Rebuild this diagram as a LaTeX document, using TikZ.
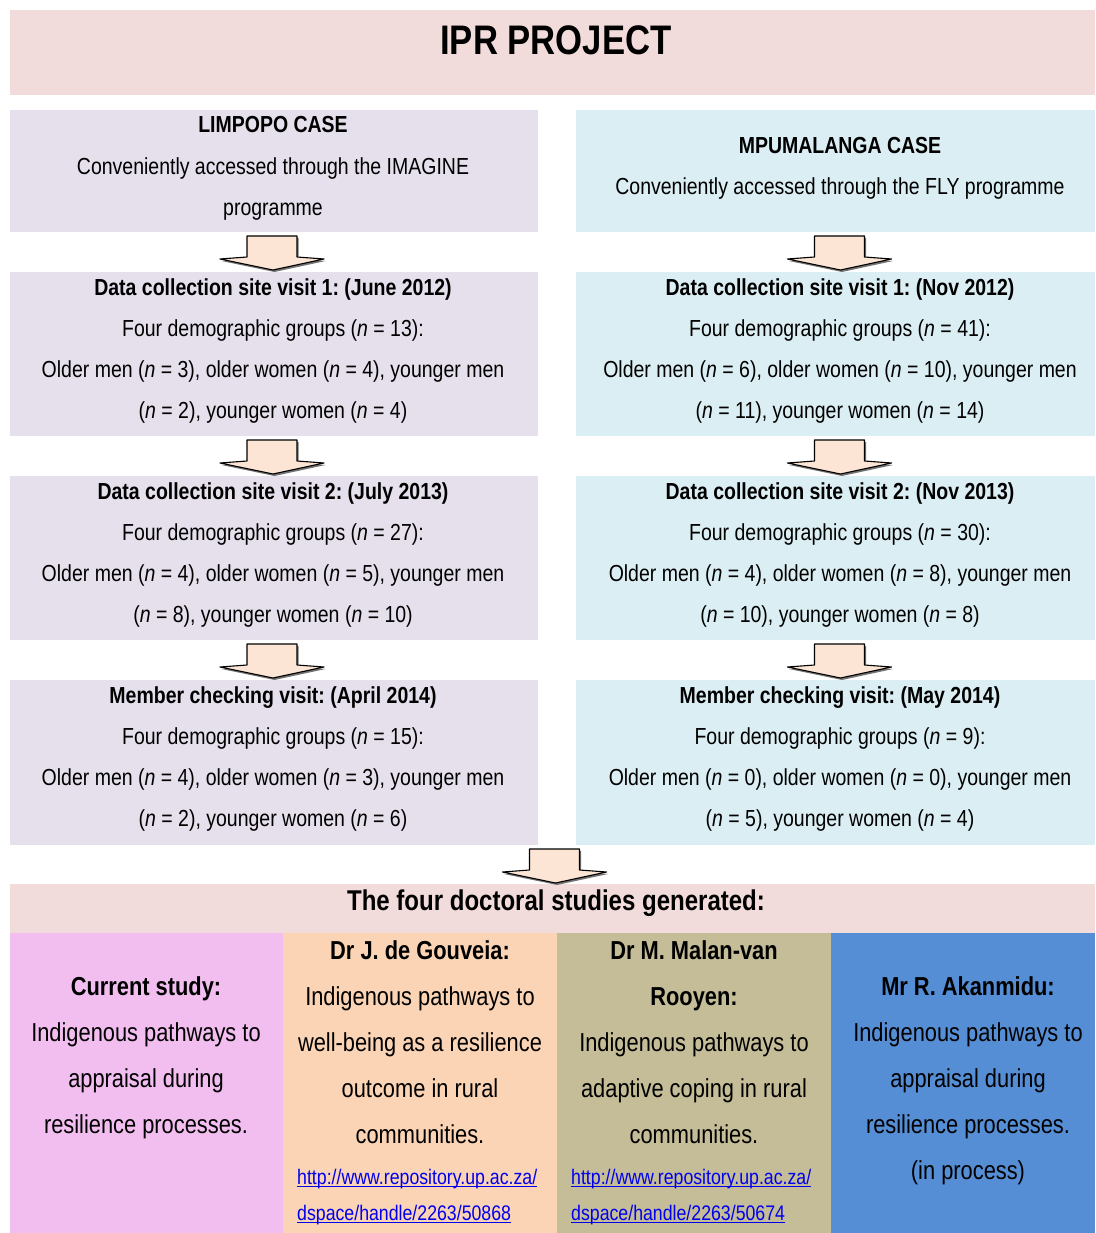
\documentclass[tikz,border=0pt]{standalone}
\usepackage{fontspec}
\setmainfont[FakeStretch=0.84]{Liberation Sans}
\usetikzlibrary{calc}
\frenchspacing

\definecolor{titlepink}{HTML}{F2DCDB}
\definecolor{limpopo}{HTML}{E5E0EC}
\definecolor{mpuma}{HTML}{DBEEF3}
\definecolor{arrowfill}{HTML}{FCE5D5}
\definecolor{studyA}{HTML}{F2BEF0}
\definecolor{studyB}{HTML}{FAD4B4}
\definecolor{studyC}{HTML}{C4BD97}
\definecolor{studyD}{HTML}{558ED5}
\definecolor{linkblue}{HTML}{0000EE}

\newcommand{\nn}{\textit{n}}
% hyperlink-style text with a heavier underline close to the baseline
\newcommand{\ulink}[1]{\setbox0\hbox{#1}\rlap{\rule[-2.6pt]{\wd0}{1.4pt}}\box0}

\tikzset{
  box/.style={draw=none, inner sep=0pt, outer sep=0pt, minimum width=#1},
  rowtext/.style={inner sep=0pt, align=center, font=\fontsize{23.2}{41.3}\selectfont},
  coltext/.style={inner sep=0pt, align=center, font=\fontsize{26}{46}\selectfont},
  linktext/.style={inner sep=0pt, align=left, text=linkblue, font=\fontsize{21.1}{36}\selectfont},
  blockarrow/.pic={
    \path[fill=black!55, xshift=1.5pt, yshift=-2pt]
      (-25,0) -- (25,0) -- (25,21) -- (52,23) -- (1,34) -- (-52,23) -- (-25,21) -- cycle;
    \draw[fill=arrowfill, line width=1.1pt, line join=round]
      (-25,0) -- (25,0) -- (25,21) -- (52,23) -- (1,34) -- (-52,23) -- (-25,21) -- cycle;
  }
}

\begin{document}
\begin{tikzpicture}[x=1pt, y=-1pt]
\useasboundingbox (0,0) rectangle (1095,1233);

% title banner
\node[box=1085pt, minimum height=85pt, fill=titlepink] (title) at (552.5,52.5) {};
\node[inner sep=0pt, font=\fontsize{41.3}{48}\selectfont\bfseries] (titletext) at (556,40) {IPR PROJECT};

% Limpopo column
\node[box=528pt, minimum height=122pt, fill=limpopo] (l1) at (274,171) {};
\node[box=528pt, minimum height=164pt, fill=limpopo] (l2) at (274,354) {};
\node[box=528pt, minimum height=164pt, fill=limpopo] (l3) at (274,558) {};
\node[box=528pt, minimum height=165pt, fill=limpopo] (l4) at (274,762.5) {};

% Mpumalanga column
\node[box=519pt, minimum height=122pt, fill=mpuma] (r1) at (835.5,171) {};
\node[box=519pt, minimum height=164pt, fill=mpuma] (r2) at (835.5,354) {};
\node[box=519pt, minimum height=164pt, fill=mpuma] (r3) at (835.5,558) {};
\node[box=519pt, minimum height=165pt, fill=mpuma] (r4) at (835.5,762.5) {};

% studies banner and the four studies
\node[box=1085pt, minimum height=49pt, fill=titlepink] (studies) at (552.5,908.5) {};
\node[box=273pt, minimum height=300pt, fill=studyA] (s1) at (146.5,1083) {};
\node[box=274pt, minimum height=300pt, fill=studyB] (s2) at (420,1083) {};
\node[box=274pt, minimum height=300pt, fill=studyC] (s3) at (694,1083) {};
\node[box=264pt, minimum height=300pt, fill=studyD] (s4) at (963,1083) {};

% block arrows between the stages
\path ($(l1.south)+(-2,4)$) pic {blockarrow};
\path ($(l2.south)+(-2,4)$) pic {blockarrow};
\path ($(l3.south)+(-2,4)$) pic {blockarrow};
\path ($(r1.south)+(4,4)$) pic {blockarrow};
\path ($(r2.south)+(4,4)$) pic {blockarrow};
\path ($(r3.south)+(4,4)$) pic {blockarrow};
\path ($(studies.north)+(2,-35)$) pic {blockarrow};

% Limpopo texts
\node[rowtext] (l1t) at (273,168.5) {\textbf{LIMPOPO CASE}\\Conveniently accessed through the IMAGINE\\programme};
\node[rowtext] (l2t) at (273,351) {\textbf{Data collection site visit 1: (June 2012)}\\Four demographic groups (\nn{} = 13):\\Older men (\nn{} = 3), older women (\nn{} = 4), younger men\\(\nn{} = 2), younger women (\nn{} = 4)};
\node[rowtext] (l3t) at (273,555) {\textbf{Data collection site visit 2: (July 2013)}\\Four demographic groups (\nn{} = 27):\\Older men (\nn{} = 4), older women (\nn{} = 5), younger men\\(\nn{} = 8), younger women (\nn{} = 10)};
\node[rowtext] (l4t) at (273,759) {\textbf{Member checking visit: (April 2014)}\\Four demographic groups (\nn{} = 15):\\Older men (\nn{} = 4), older women (\nn{} = 3), younger men\\(\nn{} = 2), younger women (\nn{} = 6)};

% Mpumalanga texts
\node[rowtext] (r1t) at (840,168) {\textbf{MPUMALANGA CASE}\\Conveniently accessed through the FLY programme};
\node[rowtext] (r2t) at (840,351) {\textbf{Data collection site visit 1: (Nov 2012)}\\Four demographic groups (\nn{} = 41):\\Older men (\nn{} = 6), older women (\nn{} = 10), younger men\\(\nn{} = 11), younger women (\nn{} = 14)};
\node[rowtext] (r3t) at (840,555) {\textbf{Data collection site visit 2: (Nov 2013)}\\Four demographic groups (\nn{} = 30):\\Older men (\nn{} = 4), older women (\nn{} = 8), younger men\\(\nn{} = 10), younger women (\nn{} = 8)};
\node[rowtext] (r4t) at (840,759) {\textbf{Member checking visit: (May 2014)}\\Four demographic groups (\nn{} = 9):\\Older men (\nn{} = 0), older women (\nn{} = 0), younger men\\(\nn{} = 5), younger women (\nn{} = 4)};

% studies texts
\node[inner sep=0pt, font=\fontsize{28.6}{32}\selectfont\bfseries] (studiest) at (556,903) {The four doctoral studies generated:};
\node[coltext] (s1t) at (146,1058) {\textbf{Current study:}\\Indigenous pathways to\\appraisal during\\resilience processes.};
\node[coltext] (s2t) at (420,1042) {\textbf{Dr J. de Gouveia:}\\Indigenous pathways to\\well-being as a resilience\\outcome in rural\\communities.};
\node[coltext] (s3t) at (694,1042) {\textbf{Dr M. Malan-van}\\\textbf{Rooyen:}\\Indigenous pathways to\\adaptive coping in rural\\communities.};
\node[coltext] (s4t) at (968,1081) {\textbf{Mr R. Akanmidu:}\\Indigenous pathways to\\appraisal during\\resilience processes.\\(in process)};
\node[linktext, anchor=west] (s2l) at (297,1197) {\ulink{http://www.repository.up.ac.za/}\\\ulink{dspace/handle/2263/50868}};
\node[linktext, anchor=west] (s3l) at (571,1197) {\ulink{http://www.repository.up.ac.za/}\\\ulink{dspace/handle/2263/50674}};
\end{tikzpicture}
\end{document}
